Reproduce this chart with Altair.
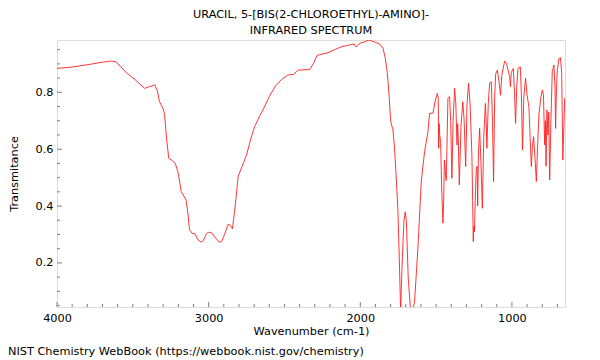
import altair as alt
import pandas as pd

# ---- data ----
wavenumber = [
    4000, 3900, 3800, 3700, 3640, 3610, 3580, 3540, 3480, 3423, 3390, 3355, 3338, 3324, 3300, 3291,
    3278, 3263, 3240, 3220, 3200, 3181, 3160, 3148, 3136, 3126, 3110, 3090, 3070, 3049, 3035, 3015,
    2999, 2980, 2955, 2930, 2915, 2895, 2872, 2855, 2843, 2825, 2805, 2775, 2750, 2720, 2697, 2665,
    2642, 2600, 2560, 2520, 2477, 2440, 2410, 2334, 2310, 2285, 2214, 2170, 2125, 2060, 2040, 2030,
    2020, 2005, 1970, 1943, 1910, 1873, 1850, 1835, 1822, 1810, 1800, 1792, 1785, 1775, 1765, 1752,
    1742, 1734, 1724, 1712, 1703, 1696, 1684, 1668, 1655, 1642, 1620, 1598, 1576, 1554, 1543, 1521,
    1505, 1492, 1486, 1483, 1480, 1476, 1470, 1463, 1455, 1450, 1445, 1439, 1433, 1422, 1411, 1404,
    1396, 1388, 1378, 1370, 1362, 1358, 1354, 1347, 1336, 1324, 1315, 1305, 1296, 1286, 1276, 1264,
    1259, 1255, 1251, 1247, 1242, 1235, 1229, 1226, 1220, 1213, 1204, 1195, 1186, 1175, 1170, 1165,
    1156, 1147, 1136, 1128, 1121, 1114, 1107, 1096, 1086, 1075, 1067, 1048, 1035, 1022, 1015, 1010,
    1004, 991, 983, 976, 968, 960, 945, 938, 930, 922, 910, 900, 888, 880, 872, 865,
    857, 848, 839, 830, 822, 810, 799, 792, 784, 779, 775, 769, 763, 757, 751, 743,
    734, 723, 716, 712, 706, 700, 690, 680, 672, 668, 664, 659, 652,
]
transmittance = [
    0.884, 0.889, 0.897, 0.906, 0.910, 0.907, 0.890, 0.868, 0.842, 0.814, 0.820, 0.826, 0.805, 0.767, 0.742, 0.725,
    0.640, 0.568, 0.560, 0.550, 0.515, 0.451, 0.432, 0.420, 0.370, 0.316, 0.305, 0.302, 0.281, 0.273, 0.278, 0.303,
    0.308, 0.306, 0.288, 0.273, 0.275, 0.300, 0.336, 0.331, 0.320, 0.400, 0.505, 0.545, 0.580, 0.640, 0.679, 0.715,
    0.738, 0.785, 0.822, 0.845, 0.861, 0.863, 0.878, 0.880, 0.900, 0.930, 0.939, 0.950, 0.960, 0.968, 0.970, 0.960,
    0.962, 0.972, 0.978, 0.984, 0.978, 0.970, 0.955, 0.920, 0.870, 0.790, 0.700, 0.682, 0.670, 0.610, 0.520, 0.386,
    0.200, 0.030, 0.200, 0.350, 0.380, 0.345, 0.150, 0.030, 0.030, 0.064, 0.252, 0.486, 0.591, 0.661, 0.726, 0.727,
    0.773, 0.796, 0.780, 0.603, 0.690, 0.650, 0.620, 0.460, 0.340, 0.420, 0.562, 0.520, 0.490, 0.779, 0.785, 0.700,
    0.498, 0.700, 0.814, 0.760, 0.615, 0.690, 0.640, 0.474, 0.680, 0.767, 0.700, 0.539, 0.760, 0.832, 0.760, 0.580,
    0.420, 0.275, 0.330, 0.310, 0.420, 0.533, 0.540, 0.400, 0.600, 0.673, 0.550, 0.392, 0.640, 0.761, 0.700, 0.603,
    0.760, 0.832, 0.837, 0.700, 0.486, 0.780, 0.865, 0.878, 0.840, 0.790, 0.860, 0.910, 0.900, 0.870, 0.855, 0.820,
    0.870, 0.884, 0.800, 0.691, 0.820, 0.884, 0.890, 0.800, 0.597, 0.780, 0.849, 0.790, 0.749, 0.640, 0.539, 0.610,
    0.644, 0.570, 0.486, 0.620, 0.720, 0.780, 0.808, 0.790, 0.615, 0.700, 0.540, 0.738, 0.650, 0.730, 0.492, 0.700,
    0.872, 0.896, 0.820, 0.673, 0.820, 0.880, 0.919, 0.922, 0.870, 0.720, 0.562, 0.650, 0.780,
]
x_major_ticks = [1000, 2000, 3000, 4000]
x_minor_ticks = [700, 800, 900, 1100, 1200, 1300, 1400, 1500, 1600, 1700, 1800, 1900,
                 2100, 2200, 2300, 2400, 2500, 2600, 2700, 2800, 2900,
                 3100, 3200, 3300, 3400, 3500, 3600, 3700, 3800, 3900]
y_major_ticks = [0.2, 0.4, 0.6, 0.8]
y_minor_ticks = [0.05, 0.1, 0.15, 0.25, 0.3, 0.35, 0.45, 0.5, 0.55, 0.65, 0.7, 0.75, 0.85, 0.9, 0.95]

title_lines = ["URACIL, 5-[BIS(2-CHLOROETHYL)-AMINO]-", "INFRARED SPECTRUM"]
x_title = "Wavenumber (cm-1)"
y_title = "Transmitance"
footer = "NIST Chemistry WebBook (https://webbook.nist.gov/chemistry)"

FONT = "DejaVu Sans"
FS = 11.3
GRAY = "#7f7f7f"
W, H = 508, 267

xs = alt.Scale(domain=[650, 4000], reverse=True, nice=False, zero=False)
ys = alt.Scale(domain=[0.045, 0.984], nice=False, zero=False)

x_axis = alt.Axis(
    values=x_major_ticks, format="d", tickSize=0, domain=False, grid=False,
    labelPadding=5, labelFontSize=FS, labelFont=FONT, labelColor="black",
    labelFlush=False, labelOverlap=False,
    title=x_title, titleFontSize=FS, titleFont=FONT, titleFontWeight="normal",
    titleColor="black", titlePadding=2)
y_axis = alt.Axis(
    values=y_major_ticks, format=".1f", tickSize=0, domain=False, grid=False,
    labelPadding=4, labelFontSize=FS, labelFont=FONT, labelColor="black",
    labelFlush=False, labelOverlap=False,
    title=y_title, titleFontSize=FS, titleFont=FONT, titleFontWeight="normal",
    titleColor="black", titlePadding=16)

spec = pd.DataFrame({"wn": wavenumber, "t": transmittance})

line = alt.Chart(spec).mark_line(color="#ff2020", strokeWidth=0.9, clip=True).encode(
    x=alt.X("wn:Q", scale=xs, axis=x_axis, title=x_title),
    y=alt.Y("t:Q", scale=ys, axis=y_axis, title=y_title),
)

xmin = alt.Chart(pd.DataFrame({"v": x_minor_ticks})).mark_rule(color=GRAY, strokeWidth=1).encode(
    x=alt.X("v:Q", scale=xs, axis=x_axis, title=x_title), y=alt.value(H), y2=alt.value(H - 3))
xmaj = alt.Chart(pd.DataFrame({"v": x_major_ticks})).mark_rule(color=GRAY, strokeWidth=1).encode(
    x=alt.X("v:Q", scale=xs, axis=x_axis, title=x_title), y=alt.value(H), y2=alt.value(H - 5))
ymin = alt.Chart(pd.DataFrame({"v": y_minor_ticks})).mark_rule(color=GRAY, strokeWidth=1).encode(
    y=alt.Y("v:Q", scale=ys, axis=y_axis, title=y_title), x=alt.value(0), x2=alt.value(3))
ymaj = alt.Chart(pd.DataFrame({"v": y_major_ticks})).mark_rule(color=GRAY, strokeWidth=1).encode(
    y=alt.Y("v:Q", scale=ys, axis=y_axis, title=y_title), x=alt.value(0), x2=alt.value(5))

foot = alt.Chart(pd.DataFrame({"t": [footer]})).mark_text(
    align="left", baseline="middle", font=FONT, fontSize=FS, color="black").encode(
    x=alt.value(-49), y=alt.value(H + 45), text="t:N")

chart = alt.layer(line, xmin, xmaj, ymin, ymaj, foot).properties(
    width=W, height=H,
    title=alt.TitleParams(text=title_lines, font=FONT, fontSize=FS, fontWeight="normal",
                          color="black", anchor="middle", offset=4, lineHeight=16),
    autosize=alt.AutoSizeParams(type="none"),
    padding={"left": 49, "top": 32, "right": 27, "bottom": 53},
).configure_view(stroke=GRAY, strokeWidth=1.5).configure(background="white")

chart.save("out.html", embed_options={"renderer": "svg", "actions": False})
